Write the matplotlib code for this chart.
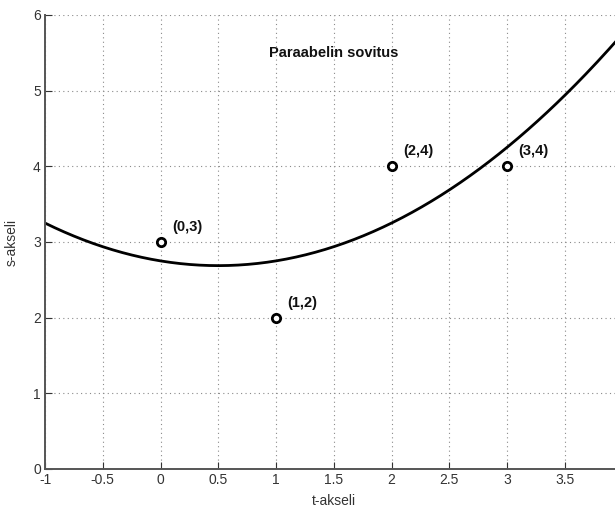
import numpy as np
import matplotlib
matplotlib.use("Agg")
import matplotlib.pyplot as plt

# data points
t_pts = [0, 1, 2, 3]
s_pts = [3, 2, 4, 4]
pt_labels = ["(0,3)", "(1,2)", "(2,4)", "(3,4)"]

x_ticks = [-1, -0.5, 0, 0.5, 1, 1.5, 2, 2.5, 3, 3.5]
x_ticklabels = ["-1", "-0.5", "0", "0.5", "1", "1.5", "2", "2.5", "3", "3.5"]
y_ticks = [0, 1, 2, 3, 4, 5, 6]

# least squares parabola through the points
coef = np.polyfit(t_pts, s_pts, 2)
t_curve = np.linspace(-1, 4, 300)
s_curve = np.polyval(coef, t_curve)

plt.rcParams['font.family'] = ['Liberation Sans', 'DejaVu Sans']

fig = plt.figure(figsize=(6.15, 5.13), dpi=100)
ax = fig.add_axes([0.0732, 0.0858, 0.939, 0.885])

ax.plot(t_curve, s_curve, color="black", linewidth=2)
ax.plot(t_pts, s_pts, "o", markersize=6, markerfacecolor="white",
        markeredgecolor="black", markeredgewidth=2)

for x, y, lab in zip(t_pts, s_pts, pt_labels):
    ax.text(x + 0.1, y + 0.2, lab, fontsize=10.5, fontweight="bold",
            ha="left", va="center", color="#111111")

ax.text(0.94, 5.5, "Paraabelin sovitus", fontsize=10.5, fontweight="bold",
        ha="left", va="center", color="#111111")

ax.set_xlim(-1, 4)
ax.set_ylim(0, 6)
ax.set_xticks(x_ticks)
ax.set_xticklabels(x_ticklabels)
ax.set_yticks(y_ticks)

ax.grid(True, linestyle=(0, (1, 3)), color="#8a8a8a", linewidth=0.8)
ax.tick_params(direction="in", length=5, color="#333333", labelcolor="#333333",
               labelsize=10, pad=3)
for side in ["top", "right"]:
    ax.spines[side].set_visible(False)
for side in ["bottom", "left"]:
    ax.spines[side].set_color("#555555")
    ax.spines[side].set_linewidth(1.4)

ax.set_xlabel("t-akseli", fontsize=10, color="#333333", labelpad=5)
ax.set_ylabel("s-akseli", fontsize=10, color="#333333", labelpad=10)

fig.savefig("out.png", dpi=100)
